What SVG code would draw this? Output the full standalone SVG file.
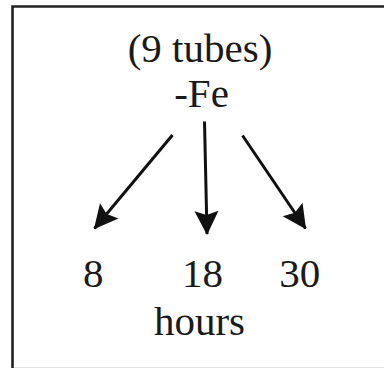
<svg xmlns="http://www.w3.org/2000/svg" width="384" height="368" viewBox="0 0 384 368">
  <style>
    .t { font-family: "Liberation Serif", "Times New Roman", serif; font-size: 41px; fill: #1a1a1a; text-anchor: middle; }
    .c { stroke: #111; stroke-width: 3; fill: none; }
  </style>
  <defs>
    <marker id="ah" markerUnits="userSpaceOnUse" markerWidth="30" markerHeight="30" refX="23" refY="12" orient="auto" overflow="visible">
      <path d="M0,0 L24,12 L0,24 L4,12 Z" fill="#111"/>
    </marker>
  </defs>
  <rect x="0" y="0" width="384" height="368" fill="#fff"/>
  <path d="M12.5,368 V6.5 H390" fill="none" stroke="#222" stroke-width="2.6"/>
  <line x1="14" y1="367.5" x2="384" y2="367.5" stroke="#e4e4e4" stroke-width="1"/>
  <g id="source">
    <text class="t" x="200" y="62">(9 tubes)</text>
    <text class="t" x="201.5" y="107">-Fe</text>
  </g>
  <g id="h8"><text class="t" x="93.3" y="287">8</text></g>
  <g id="h18"><text class="t" x="202.5" y="287">18</text></g>
  <g id="h30"><text class="t" x="299.7" y="287">30</text></g>
  <g id="hours"><text class="t" x="199.5" y="335">hours</text></g>
  <g id="connectors">
    <line class="c" x1="172.5" y1="135" x2="94.5" y2="228.5" marker-end="url(#ah)"/>
    <line class="c" x1="204.5" y1="121.5" x2="207" y2="234" marker-end="url(#ah)"/>
    <line class="c" x1="242.5" y1="135.5" x2="305.5" y2="228.5" marker-end="url(#ah)"/>
  </g>
</svg>
